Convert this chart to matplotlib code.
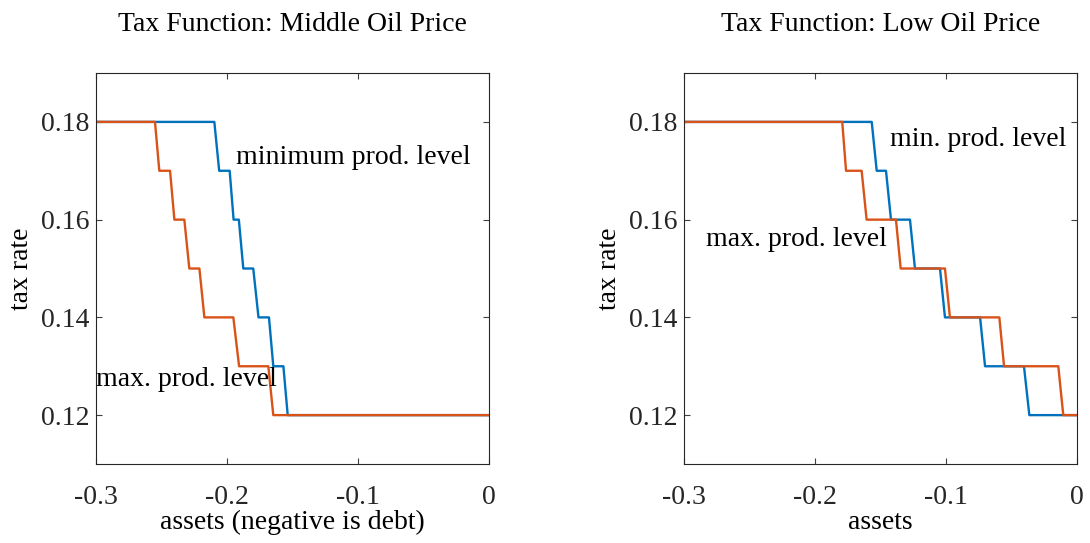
import matplotlib
matplotlib.use("Agg")
import matplotlib.pyplot as plt

# Left panel: Middle oil price
mid_min_x = [-0.30, -0.2097, -0.206, -0.198, -0.195, -0.191, -0.1876, -0.180, -0.176, -0.168, -0.1647, -0.157, -0.1537, 0.0]
mid_min_y = [0.18, 0.18, 0.17, 0.17, 0.16, 0.16, 0.15, 0.15, 0.14, 0.14, 0.13, 0.13, 0.12, 0.12]
mid_max_x = [-0.30, -0.255, -0.2517, -0.2435, -0.2402, -0.2326, -0.2288, -0.2211, -0.2173, -0.1952, -0.1908, -0.1685, -0.1647, 0.0]
mid_max_y = [0.18, 0.18, 0.17, 0.17, 0.16, 0.16, 0.15, 0.15, 0.14, 0.14, 0.13, 0.13, 0.12, 0.12]

# Right panel: Low oil price
low_min_x = [-0.30, -0.1567, -0.1529, -0.1458, -0.142, -0.1275, -0.1237, -0.1046, -0.1008, -0.074, -0.0702, -0.0405, -0.0364, 0.0]
low_min_y = [0.18, 0.18, 0.17, 0.17, 0.16, 0.16, 0.15, 0.15, 0.14, 0.14, 0.13, 0.13, 0.12, 0.12]
low_max_x = [-0.30, -0.1792, -0.1763, -0.1644, -0.1606, -0.1382, -0.1346, -0.1008, -0.097, -0.0593, -0.0557, -0.0143, -0.0105, 0.0]
low_max_y = [0.18, 0.18, 0.17, 0.17, 0.16, 0.16, 0.15, 0.15, 0.14, 0.14, 0.13, 0.13, 0.12, 0.12]

xticks = [-0.3, -0.2, -0.1, 0.0]
xticklabels = ["-0.3", "-0.2", "-0.1", "0"]
yticks = [0.12, 0.14, 0.16, 0.18]
yticklabels = ["0.12", "0.14", "0.16", "0.18"]

BLUE = "#0072BD"
ORANGE = "#D95319"

plt.rcParams["font.family"] = ["Liberation Serif", "DejaVu Serif"]

fig = plt.figure(figsize=(10.9, 5.43), dpi=100)
ax1 = fig.add_axes([0.0881, 0.1455, 0.3606, 0.720])
ax2 = fig.add_axes([0.6275, 0.1455, 0.3606, 0.720])

FS = 20

panels = [
    (ax1, mid_min_x, mid_min_y, mid_max_x, mid_max_y,
     "Tax Function: Middle Oil Price", "assets (negative is debt)",
     [("minimum prod. level", -0.193, 0.1727), ("max. prod. level", -0.3, 0.1273)]),
    (ax2, low_min_x, low_min_y, low_max_x, low_max_y,
     "Tax Function: Low Oil Price", "assets",
     [("min. prod. level", -0.1427, 0.1765), ("max. prod. level", -0.2832, 0.1559)]),
]

for ax, mnx, mny, mxx, mxy, title, xlabel, texts in panels:
    ax.plot(mnx, mny, color=BLUE, lw=1.7)
    ax.plot(mxx, mxy, color=ORANGE, lw=1.7)
    ax.set_xlim(-0.3, 0.0)
    ax.set_ylim(0.11, 0.19)
    ax.set_xticks(xticks)
    ax.set_xticklabels(xticklabels)
    ax.set_yticks(yticks)
    ax.set_yticklabels(yticklabels)
    ax.tick_params(direction="in", top=True, right=True, labelsize=FS,
                   length=4, color="#404040", labelcolor="#262626")
    ax.tick_params(axis="x", pad=15)
    ax.tick_params(axis="y", pad=5)
    for sp in ax.spines.values():
        sp.set_color("#262626")
        sp.set_linewidth(0.8)
    ax.set_title(title, fontsize=FS, pad=30)
    ax.set_xlabel(xlabel, fontsize=FS, labelpad=0)
    ax.set_ylabel("tax rate", fontsize=FS, labelpad=5)
    for s, x, y in texts:
        ax.text(x, y, s, fontsize=FS, va="center", ha="left", color="black")

fig.savefig("out.png", dpi=100)
